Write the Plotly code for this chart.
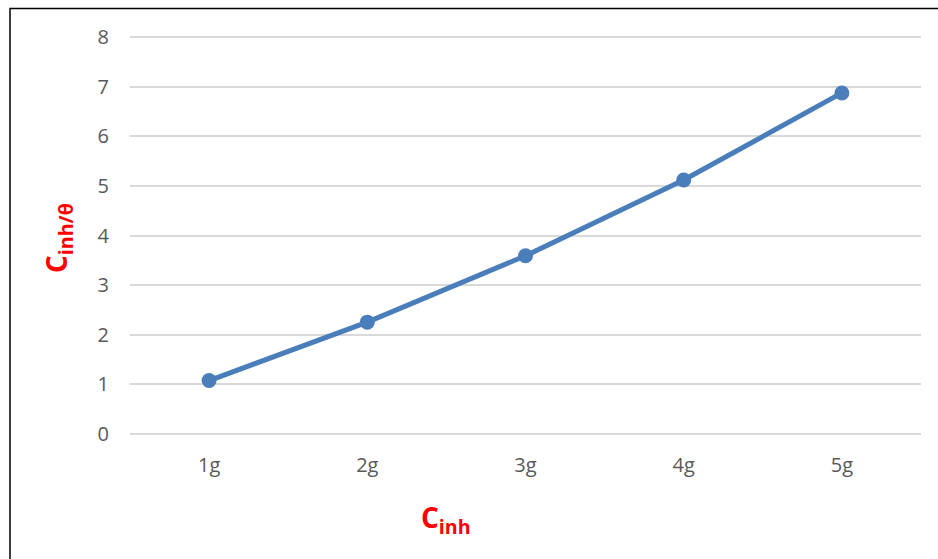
import plotly.graph_objects as go

# Inhibitor concentration vs C_inh/θ
categories = ["1g", "2g", "3g", "4g", "5g"]
values = [1.07, 2.25, 3.59, 5.12, 6.88]
y_ticks = [0, 1, 2, 3, 4, 5, 6, 7, 8]

W, H = 938, 559
L, R, T, B = 130, 17, 35.5, 123.5
pw, ph = W - L - R, H - T - B
pad = 0.03  # keeps the gridlines at 0 and 8 inside the plot area

def px_x(px):
    return (px - L) / pw

def px_y(py):
    return (H - B - py) / ph

fig = go.Figure()
fig.add_trace(go.Scatter(
    x=categories, y=values, mode="lines+markers",
    line=dict(color="#4a7ebb", width=5),
    marker=dict(color="#4a7ebb", size=15),
    showlegend=False, cliponaxis=False,
))

tick_font = dict(family="Open Sans, Liberation Sans, sans-serif", size=20, color="#595959")
title_font = dict(family="Open Sans, Liberation Sans, sans-serif", size=28, color="#ff0000")

fig.update_layout(
    width=W, height=H,
    margin=dict(l=L, r=R, t=T, b=B),
    paper_bgcolor="white", plot_bgcolor="white",
    xaxis=dict(
        type="category", range=[-0.5, 4.5],
        showgrid=False, showline=False, zeroline=False,
        ticks="", tickfont=tick_font, ticklabelstandoff=16,
    ),
    yaxis=dict(
        range=[0 - pad, 8 + pad], tickvals=y_ticks,
        showgrid=True, gridcolor="#d9d9d9", gridwidth=1.5,
        zeroline=False, showline=False, ticks="",
        tickfont=tick_font, ticklabelstandoff=20,
    ),
    shapes=[dict(
        type="rect", xref="paper", yref="paper",
        x0=px_x(10), x1=px_x(960), y0=px_y(600), y1=px_y(8),
        line=dict(color="black", width=1.5), fillcolor="rgba(0,0,0,0)",
        layer="above",
    )],
    annotations=[
        dict(
            text="<b>C<sub>inh/θ</sub></b>", xref="paper", yref="paper",
            x=px_x(58), y=px_y(238), textangle=-90, showarrow=False,
            font=title_font, xanchor="center", yanchor="middle",
        ),
        dict(
            text="<b>C<sub>inh</sub></b>", xref="paper", yref="paper",
            x=px_x(446), y=px_y(520), showarrow=False,
            font=title_font, xanchor="center", yanchor="middle",
        ),
    ],
)

fig.write_html("out.html")
